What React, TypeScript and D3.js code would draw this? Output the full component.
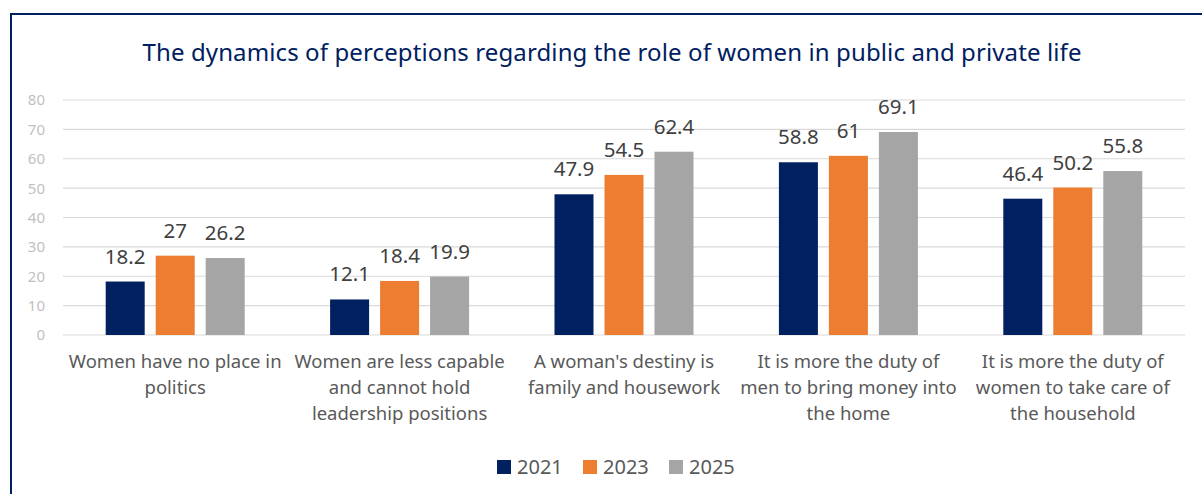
import { useMemo } from "react";
import * as d3 from "d3";

const W = 1202;
const H = 494;
const MARGIN = { top: 100, right: 17, bottom: 159, left: 63 };

const TITLE = "The dynamics of perceptions regarding the role of women in public and private life";

const categories = [
  "Women have no place in politics",
  "Women are less capable and cannot hold leadership positions",
  "A woman's destiny is family and housework",
  "It is more the duty of men to bring money into the home",
  "It is more the duty of women to take care of the household",
];
const categoryLines = [
  ["Women have no place in", "politics"],
  ["Women are less capable", "and cannot hold", "leadership positions"],
  ["A woman's destiny is", "family and housework"],
  ["It is more the duty of", "men to bring money into", "the home"],
  ["It is more the duty of", "women to take care of", "the household"],
];
const seriesNames = ["2021", "2023", "2025"];
const values2021 = [18.2, 12.1, 47.9, 58.8, 46.4];
const values2023 = [27, 18.4, 54.5, 61, 50.2];
const values2025 = [26.2, 19.9, 62.4, 69.1, 55.8];
const colors = ["#002060", "#ED7D31", "#A5A5A5"];
const yTicks = [0, 10, 20, 30, 40, 50, 60, 70, 80];

const FONT = "'Noto Sans', 'Open Sans', sans-serif";

export default function App() {
  const innerW = W - MARGIN.left - MARGIN.right;
  const innerH = H - MARGIN.top - MARGIN.bottom;

  const x = useMemo(
    () => d3.scaleBand<number>().domain(d3.range(categories.length)).range([0, innerW]),
    [innerW]
  );
  const y = useMemo(() => d3.scaleLinear().domain([0, 80]).range([innerH, 0]), [innerH]);

  const series = [values2021, values2023, values2025];
  const barW = 39;
  const step = 50;

  return (
    <svg width={W} height={H} style={{ position: "absolute", left: 0, top: 0, background: "#fff" }} fontFamily={FONT}>
      <rect x={0} y={0} width={W} height={H} fill="#fff" />
      {/* outer frame: only top and left edges are visible */}
      <path d={`M11,${H} V14 H${W}`} fill="none" stroke="#002060" strokeWidth={2} />

      <text x={612} y={61} textAnchor="middle" fontSize={24} fill="#002060" textLength={939} lengthAdjust="spacing">
        {TITLE}
      </text>

      <g transform={`translate(${MARGIN.left},${MARGIN.top})`}>
        {yTicks.map((t) => (
          <g key={t}>
            <line x1={0} x2={innerW} y1={y(t)} y2={y(t)} stroke="#D9D9D9" strokeWidth={1.2} />
            <text x={-18} y={y(t)} dy="0.36em" textAnchor="end" fontSize={15} fill="#BFBFBF">
              {t}
            </text>
          </g>
        ))}

        {categories.map((c, ci) => {
          const cx = (x(ci) ?? 0) + x.bandwidth() / 2;
          return (
            <g key={c}>
              {series.map((vals, si) => {
                const bx = cx + (si - 1) * step - barW / 2;
                const v = vals[ci];
                return (
                  <g key={si}>
                    <rect x={bx} y={y(v)} width={barW} height={innerH - y(v)} fill={colors[si]} />
                    <text
                      x={bx + barW / 2}
                      y={y(v) - 18}
                      textAnchor="middle"
                      fontSize={20.5}
                      fill="#404040"
                    >
                      {v}
                    </text>
                  </g>
                );
              })}
              {categoryLines[ci].map((line, li) => (
                <text
                  key={li}
                  x={cx}
                  y={innerH + 33 + li * 26}
                  textAnchor="middle"
                  fontSize={18.5}
                  fill="#595959"
                >
                  {line}
                </text>
              ))}
            </g>
          );
        })}
      </g>

      <g transform="translate(497,460)">
        {seriesNames.map((s, i) => (
          <g key={s} transform={`translate(${i * 86},0)`}>
            <rect x={0} y={0} width={14} height={14} fill={colors[i]} />
            <text x={20} y={14} fontSize={20} fill="#595959">
              {s}
            </text>
          </g>
        ))}
      </g>
    </svg>
  );
}
